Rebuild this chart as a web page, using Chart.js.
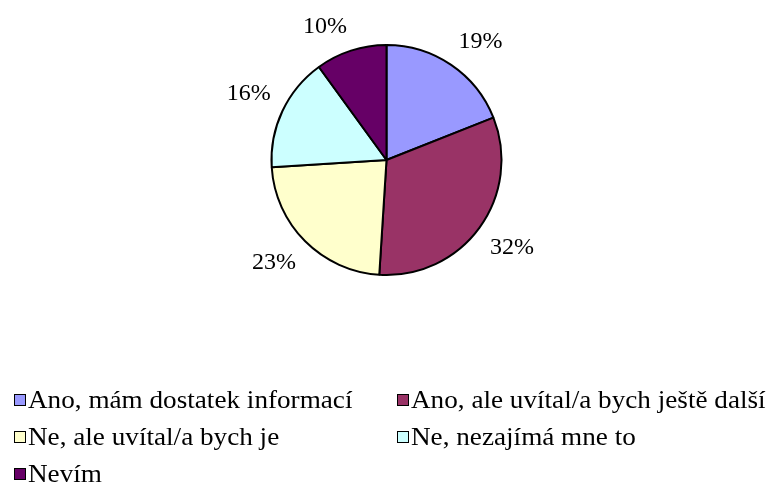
<!DOCTYPE html>
<html>
<head>
<meta charset="utf-8">
<script src="https://cdn.jsdelivr.net/npm/chart.js@4/dist/chart.umd.min.js"></script>
<style>
html,body{margin:0;padding:0;background:#fff;}
#wrap{position:relative;width:770px;height:488px;overflow:hidden;}
#c{position:absolute;left:0;top:0;}
.leg{position:absolute;font-family:"Liberation Serif","Times New Roman",serif;font-size:26px;color:#000;white-space:nowrap;line-height:26px;height:26px;}
.leg .box{position:absolute;left:0;top:7px;width:10px;height:10px;border:1px solid #000;}
.leg .txt{position:absolute;left:14px;top:0;display:inline-block;transform-origin:0 50%;transform:scaleX(1.045);}
</style>
</head>
<body>
<div id="wrap">
<canvas id="c" width="770" height="488"></canvas>
</div>
<script>
const categories = [
  "Ano, mám dostatek informací",
  "Ano, ale uvítal/a bych ještě další",
  "Ne, ale uvítal/a bych je",
  "Ne, nezajímá mne to",
  "Nevím"
];
const percentValues = [19, 32, 23, 16, 10];
const sliceColors = ["#9999FF", "#993366", "#FFFFCC", "#CCFFFF", "#660066"];

// outside-end labels: the label's nearest corner sits just beyond the rim
const labelPlugin = {
  id: 'pctLabels',
  afterDatasetsDraw(chart) {
    const ctx = chart.ctx;
    const meta = chart.getDatasetMeta(0);
    ctx.save();
    ctx.font = '24px "Liberation Serif", "Times New Roman", serif';
    ctx.fillStyle = '#000';
    ctx.textAlign = 'center';
    ctx.textBaseline = 'middle';
    meta.data.forEach((arc, i) => {
      const txt = percentValues[i] + '%';
      const hw = ctx.measureText(txt).width / 2;
      const hh = 12;
      const mid = (arc.startAngle + arc.endAngle) / 2;
      const d = arc.outerRadius + 13;
      const cx = Math.cos(mid), sy = Math.sin(mid);
      const x = arc.x + cx * d + Math.sign(cx) * hw;
      const y = arc.y + sy * d + Math.sign(sy) * hh;
      ctx.fillText(txt, x, y);
    });
    ctx.restore();
  }
};

new Chart(document.getElementById('c'), {
  type: 'pie',
  data: {
    labels: categories,
    datasets: [{
      data: percentValues,
      backgroundColor: sliceColors,
      borderColor: '#000',
      borderWidth: 2
    }]
  },
  options: {
    responsive: false,
    animation: false,
    layout: { padding: { top: 44, bottom: 212, left: 100, right: 97 } },
    plugins: { legend: { display: false }, tooltip: { enabled: false } }
  },
  plugins: [labelPlugin]
});

// legend (HTML, two columns)
const legendCols = [14, 397];
const legendRows = [387, 424, 461];
const wrap = document.getElementById('wrap');
categories.forEach((name, i) => {
  const d = document.createElement('div');
  d.className = 'leg';
  d.style.left = legendCols[i % 2] + 'px';
  d.style.top = legendRows[Math.floor(i / 2)] + 'px';
  const b = document.createElement('span');
  b.className = 'box';
  b.style.background = sliceColors[i];
  const t = document.createElement('span');
  t.className = 'txt';
  t.textContent = name;
  d.appendChild(b); d.appendChild(t);
  wrap.appendChild(d);
});
</script>
</body>
</html>
